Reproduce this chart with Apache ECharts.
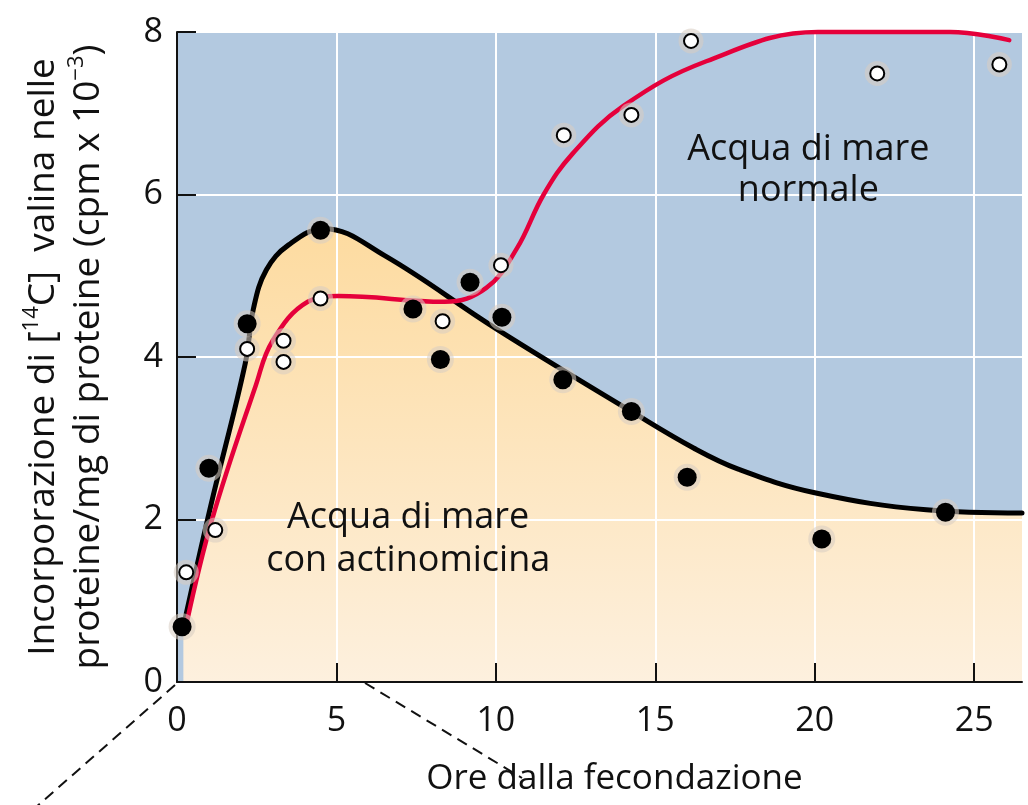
<!DOCTYPE html>
<html>
<head>
<meta charset="utf-8">
<script src="https://cdn.jsdelivr.net/npm/echarts@6/dist/echarts.min.js"></script>
<style>
html,body{margin:0;padding:0;background:#fff;}
#chart{width:1028px;height:805px;}
</style>
</head>
<body>
<div id="chart"></div>
<script>
// ---- data ----
const xTicks = [0, 5, 10, 15, 20, 25];
const yTicks = [0, 2, 4, 6, 8];

// filled (black) points: sea water + actinomycin
const hoursActino = [0.16, 1.0, 2.2, 4.5, 7.4, 8.26, 9.19, 10.19, 12.1, 14.25, 16.0, 20.22, 24.1];
const valActino   = [0.68, 2.63, 4.41, 5.56, 4.59, 3.97, 4.92, 4.49, 3.72, 3.33, 2.52, 1.76, 2.09];

// open (white) points: normal sea water
const hoursNormal = [0.29, 1.2, 2.2, 3.34, 3.34, 4.5, 8.33, 10.16, 12.13, 14.25, 16.12, 21.96, 25.79];
const valNormal   = [1.35, 1.87, 4.1, 4.2, 3.94, 4.72, 4.44, 5.13, 6.73, 6.98, 7.89, 7.49, 7.6];

// fitted curves
const curveActinoX = [0.2, 1.06, 2.14, 2.4, 2.8, 3.5, 4.6, 6.5, 10, 14.25, 16.2, 17.6, 20, 23.5, 26.5];
const curveActinoY = [0.68, 2.17, 3.92, 4.6, 5.07, 5.38, 5.58, 5.25, 4.35, 3.33, 2.88, 2.62, 2.33, 2.12, 2.08];

const curveNormalX = [0.3, 1.1, 2.47, 3.0, 4.1, 5.06, 8.39, 9.7, 10.65, 11.5, 12.4, 14.0, 16.6, 20.1, 24.25, 26.1];
const curveNormalY = [0.72, 2.0, 3.65, 4.2, 4.68, 4.75, 4.68, 4.85, 5.33, 6.0, 6.5, 7.09, 7.64, 8.0, 8.0, 7.9];

const labelNormal = ['Acqua di mare', 'normale'];
const labelActino = ['Acqua di mare', 'con actinomicina'];
const xTitle = 'Ore dalla fecondazione';

// ---- build ----
const zip = (xs, ys) => xs.map((x, i) => [x, ys[i]]);
const FONT = '"Open Sans", "Noto Sans", sans-serif';

const chart = echarts.init(document.getElementById('chart'), null, {renderer: 'canvas'});

const haloColor = 'rgba(215,205,195,0.7)';

const option = {
  animation: false,
  backgroundColor: '#ffffff',
  grid: {
    left: 177, top: 32, right: 6, bottom: 123,
    show: true, backgroundColor: '#b3c9e0', borderWidth: 0,
    outerBoundsMode: 'none', containLabel: false
  },
  xAxis: {
    type: 'value', min: 0, max: 26.5, z: 2,
    axisLine: {show: true, onZero: false, lineStyle: {color: '#111', width: 2}},
    axisTick: {show: true, inside: true, length: 19, lineStyle: {color: '#111', width: 2}, customValues: xTicks.slice(1)},
    axisLabel: {customValues: xTicks, fontSize: 34, fontFamily: FONT, color: '#111', margin: 22},
    splitLine: {show: true, lineStyle: {color: '#ffffff', width: 2}},
    name: xTitle, nameLocation: 'middle', nameGap: 80,
    nameTextStyle: {fontSize: 35, fontFamily: FONT, color: '#111', padding: [0, 0, 0, 30]}
  },
  yAxis: {
    type: 'value', min: 0, max: 8, interval: 2, z: 2,
    axisLine: {show: true, lineStyle: {color: '#111', width: 2}},
    axisTick: {show: true, inside: true, length: 19, lineStyle: {color: '#111', width: 2}},
    axisLabel: {fontSize: 34, fontFamily: FONT, color: '#111', margin: 14},
    splitLine: {show: true, lineStyle: {color: '#ffffff', width: 2}},
    name: '{a|Incorporazione di [}{s|14}{a|C]  valina nelle}\n{a|proteine/mg di proteine (cpm x 10}{s|−3}{a|)}',
    nameLocation: 'middle', nameRotate: 90, nameGap: 66,
    nameTextStyle: {
      rich: {
        a: {fontSize: 37, fontFamily: FONT, color: '#111', lineHeight: 45},
        s: {fontSize: 22, fontFamily: FONT, color: '#111', lineHeight: 26, verticalAlign: 'top'}
      }
    }
  },
  series: [
    { // orange area under the actinomycin curve
      type: 'line', z: 1, silent: true, symbol: 'none',
      data: zip(curveActinoX, curveActinoY), smooth: 0.4,
      lineStyle: {width: 0, opacity: 0},
      areaStyle: {
        opacity: 1,
        color: {type: 'linear', x: 0, y: 0, x2: 0, y2: 1,
          colorStops: [{offset: 0, color: '#fddba0'}, {offset: 1, color: '#fdf0de'}]}
      }
    },
    { // black curve
      type: 'line', z: 3, silent: true, symbol: 'none',
      data: zip(curveActinoX, curveActinoY), smooth: 0.4,
      lineStyle: {color: '#000', width: 5, cap: 'round'}
    },
    { // red curve
      type: 'line', z: 3, silent: true, symbol: 'none', clip: false,
      data: zip(curveNormalX, curveNormalY), smooth: 0.4,
      lineStyle: {color: '#e5003b', width: 4.5, cap: 'round'}
    },
    { // halos
      type: 'scatter', z: 4, silent: true, symbol: 'circle', symbolSize: 27,
      data: zip(hoursActino, valActino), itemStyle: {color: haloColor}
    },
    {
      type: 'scatter', z: 4, silent: true, symbol: 'circle', symbolSize: 25,
      data: zip(hoursNormal, valNormal), itemStyle: {color: haloColor}
    },
    { // black points
      type: 'scatter', z: 5, symbol: 'circle', symbolSize: 19,
      data: zip(hoursActino, valActino), itemStyle: {color: '#000', opacity: 1}
    },
    { // white points
      type: 'scatter', z: 5, symbol: 'circle', symbolSize: 14,
      data: zip(hoursNormal, valNormal),
      itemStyle: {color: '#fff', borderColor: '#000', borderWidth: 2, opacity: 1}
    }
  ]
};
chart.setOption(option);

// decorative annotations and zoom guide lines, placed through the axes
const p = (x, y) => chart.convertToPixel({gridIndex: 0}, [x, y]);
const o = p(0, 0);
const p1 = p(19.8, 6.3);
const p2 = p(7.25, 1.76);
const dashStyle = {stroke: '#111', lineWidth: 2, lineDash: [11, 7]};
chart.setOption({
  graphic: [
    {type: 'text', z: 10, x: p1[0], y: p1[1], style: {text: labelNormal.join('\n'), font: '36px ' + FONT, fill: '#111', align: 'center', verticalAlign: 'middle', lineHeight: 41}},
    {type: 'text', z: 10, x: p2[0], y: p2[1], style: {text: labelActino.join('\n'), font: '36px ' + FONT, fill: '#111', align: 'center', verticalAlign: 'middle', lineHeight: 43}},
    {type: 'line', z: 10, shape: {x1: o[0] - 2, y1: o[1] + 3, x2: o[0] - 142, y2: o[1] + 126}, style: dashStyle},
    {type: 'line', z: 10, shape: {x1: o[0] + 188, y1: o[1] + 1, x2: o[0] + 345, y2: o[1] + 96}, style: dashStyle}
  ]
});
</script>
</body>
</html>
